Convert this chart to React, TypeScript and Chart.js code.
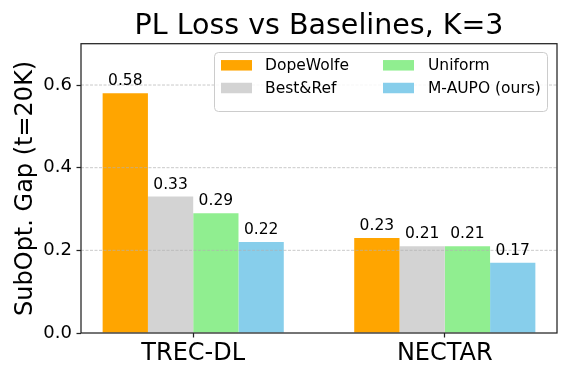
import React, { useEffect, useRef } from 'react';
import { Chart, registerables } from 'chart.js';

Chart.register(...registerables);

const categories = ['TREC-DL', 'NECTAR'];
const seriesNames = ['DopeWolfe', 'Best&Ref', 'Uniform', 'M-AUPO (ours)'];
const dopeWolfe = [0.58, 0.23];
const bestRef = [0.33, 0.21];
const uniform = [0.29, 0.21];
const maupo = [0.22, 0.17];
const seriesValues = [dopeWolfe, bestRef, uniform, maupo];
const colors = ['#FFA500', '#D3D3D3', '#90EE90', '#87CEEB'];
const yTicks = [0, 0.2, 0.4, 0.6];

const FONT = "'DejaVu Sans', sans-serif";

const overlay = {
  id: 'overlay',
  afterDatasetsDraw(chart: any) {
    const { ctx, chartArea: a, scales } = chart;
    const y = scales.y;
    ctx.save();
    ctx.strokeStyle = 'rgba(176,176,176,0.85)';
    ctx.lineWidth = 0.8;
    ctx.setLineDash([3, 1.5]);
    for (const t of yTicks) {
      if (t === 0) continue;
      const py = y.getPixelForValue(t);
      ctx.beginPath();
      ctx.moveTo(a.left, py);
      ctx.lineTo(a.right, py);
      ctx.stroke();
    }
    ctx.setLineDash([]);
    ctx.fillStyle = '#000';
    ctx.font = `15.5px ${FONT}`;
    ctx.textAlign = 'center';
    ctx.textBaseline = 'alphabetic';
    chart.data.datasets.forEach((ds: any, i: number) => {
      const meta = chart.getDatasetMeta(i);
      meta.data.forEach((bar: any, j: number) => {
        ctx.fillText(seriesValues[i][j].toFixed(2), bar.x, bar.y - 8);
      });
    });
    ctx.restore();
  },
  afterDraw(chart: any) {
    const { ctx, chartArea: a } = chart;
    ctx.save();
    // spines
    ctx.strokeStyle = '#222';
    ctx.lineWidth = 1.25;
    ctx.strokeRect(a.left, a.top, a.right - a.left, a.bottom - a.top);
    // legend
    const lx = 214.5, ly = 52.5, lw = 333, lh = 59;
    ctx.beginPath();
    (ctx as any).roundRect(lx, ly, lw, lh, 4);
    ctx.fillStyle = 'rgba(255,255,255,0.85)';
    ctx.fill();
    ctx.strokeStyle = '#cccccc';
    ctx.lineWidth = 1;
    ctx.stroke();
    const colPatchX = [221, 383];
    const colTextX = [265, 428];
    const rowY = [65.3, 88];
    ctx.font = `15.5px ${FONT}`;
    ctx.textAlign = 'left';
    ctx.textBaseline = 'middle';
    seriesNames.forEach((name, i) => {
      const col = Math.floor(i / 2);
      const row = i % 2;
      ctx.fillStyle = colors[i];
      ctx.fillRect(colPatchX[col], rowY[row] - 5.25, 31, 10.5);
      ctx.fillStyle = '#000';
      ctx.fillText(name, colTextX[col], rowY[row] + 1);
    });
    ctx.restore();
  },
};

export default function App() {
  const ref = useRef<HTMLCanvasElement | null>(null);
  useEffect(() => {
    if (!ref.current) return;
    const chart = new Chart(ref.current, {
      type: 'bar',
      data: {
        datasets: seriesNames.map((name, i) => ({
          label: name,
          data: seriesValues[i].map((v, j) => ({ x: j, y: v })),
          backgroundColor: colors[i],
          borderWidth: 0,
          categoryPercentage: 0.72,
          barPercentage: 1.0,
        })),
      },
      options: {
        animation: false,
        responsive: false,
        devicePixelRatio: 1,
        layout: { padding: { left: 0, right: 14, top: 0, bottom: 0 } },
        plugins: {
          legend: { display: false },
          tooltip: { enabled: false },
          title: {
            display: true,
            text: 'PL Loss vs Baselines, K=3',
            fullSize: false,
            color: '#000',
            font: { family: FONT, size: 28.5, weight: 'normal' },
            padding: { top: 9, bottom: 0.5 },
          },
        },
        scales: {
          x: {
            type: 'linear',
            min: -0.446,
            max: 1.446,
            offset: false,
            afterFit(s: any) {
              s.height = 48;
            },
            afterBuildTicks(s: any) {
              s.ticks = categories.map((_, i) => ({ value: i }));
            },
            ticks: {
              callback: (v: any) => categories[Number(v)] ?? '',
              font: { family: FONT, size: 24 },
              color: '#000',
              padding: 2,
              maxRotation: 0,
              autoSkip: false,
            },
            grid: {
              offset: false,
              drawOnChartArea: false,
              tickLength: 4.5,
              tickColor: '#222',
              tickWidth: 1.25,
            },
            border: { display: false },
          },
          y: {
            min: 0,
            max: 0.7,
            afterFit(s: any) {
              s.width = 81;
            },
            afterBuildTicks(s: any) {
              s.ticks = yTicks.map((v) => ({ value: v }));
            },
            ticks: {
              callback: (v: any) => Number(v).toFixed(1),
              font: { family: FONT, size: 18 },
              color: '#000',
              padding: 4.5,
            },
            grid: {
              drawOnChartArea: false,
              tickLength: 4.5,
              tickColor: '#222',
              tickWidth: 1.25,
            },
            border: { display: false },
            title: {
              display: true,
              text: 'SubOpt. Gap (t=20K)',
              color: '#000',
              font: { family: FONT, size: 24 },
              padding: { top: 11, bottom: 0 },
            },
          },
        },
      } as any,
      plugins: [overlay],
    });
    return () => chart.destroy();
  }, []);
  return (
    <div style={{ position: 'absolute', left: 0, top: 0, width: 571, height: 381 }}>
      <canvas ref={ref} width={571} height={381} style={{ display: 'block' }} />
    </div>
  );
}
